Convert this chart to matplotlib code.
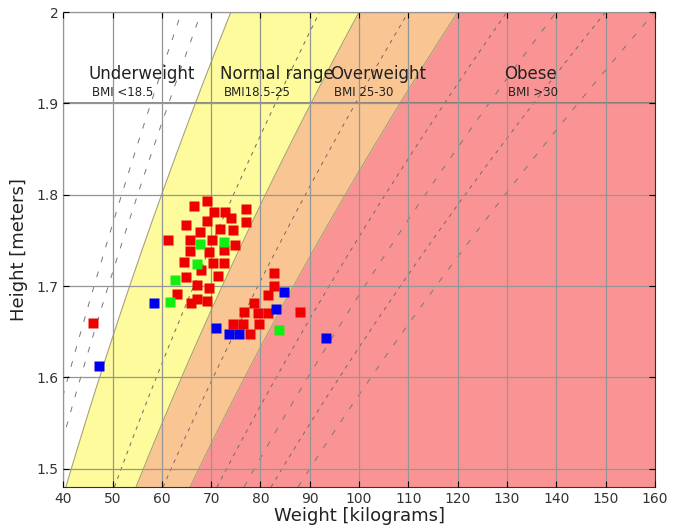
import numpy as np
import matplotlib
matplotlib.use("Agg")
import matplotlib.pyplot as plt

# category boundaries (BMI)
bmi_edges = [18.5, 25, 30]
band_colors = ["white", "#fdfb9c", "#f9c693", "#fa9494"]

# sub-category lines
principal_lines = [16, 17, 35, 40]
asian_lines = [23, 27.5, 32.5, 37.5]

# measured people: weight (kg), height (m)
red_w = [69.1, 66.5, 70.5, 72.9, 74.0, 77.0, 77.0, 64.8, 69.1, 71.8, 74.4, 67.7,
         61.2, 65.8, 70.1, 72.6, 74.8, 65.8, 69.6, 64.5, 70.4, 72.6, 68.0, 71.4,
         64.8, 67.1, 69.6, 63.1, 67.2, 69.1, 66.0, 46.0, 82.8, 82.8, 81.6, 78.6,
         76.7, 79.6, 81.6, 88.1, 74.4, 76.4, 79.7, 77.9]
red_h = [1.793, 1.788, 1.781, 1.781, 1.775, 1.784, 1.770, 1.767, 1.771, 1.762, 1.761, 1.759,
         1.751, 1.751, 1.750, 1.740, 1.745, 1.739, 1.737, 1.726, 1.725, 1.725, 1.718, 1.711,
         1.710, 1.701, 1.698, 1.691, 1.686, 1.684, 1.681, 1.660, 1.714, 1.700, 1.690, 1.682,
         1.672, 1.671, 1.671, 1.672, 1.658, 1.658, 1.659, 1.648]
green_w = [67.7, 72.6, 67.1, 62.6, 61.7, 83.8]
green_h = [1.746, 1.748, 1.724, 1.707, 1.683, 1.652]
blue_w = [58.4, 84.8, 83.2, 71.0, 73.7, 75.7, 93.3, 47.2]
blue_h = [1.682, 1.694, 1.675, 1.654, 1.648, 1.648, 1.643, 1.613]

labels = ["Underweight", "Normal range", "Overweight", "Obese"]
sublabels = ["BMI <18.5", "BMI18.5-25", "BMI 25-30", "BMI >30"]
label_x = [45.1, 71.8, 94.2, 129.4]

xmin, xmax = 40, 160
ymin, ymax = 1.48, 2.0

fig = plt.figure(figsize=(6.73, 5.26), dpi=100)
ax = fig.add_axes([0.094, 0.074, 0.879, 0.903])

h = np.linspace(ymin, ymax, 200)
bounds = [np.full_like(h, xmin)] + [b * h**2 for b in bmi_edges] + [np.full_like(h, xmax)]
for i, c in enumerate(band_colors):
    ax.fill_betweenx(h, bounds[i], bounds[i + 1], color=c, lw=0, zorder=0)
for b in bmi_edges:
    ax.plot(b * h**2, h, color="#a8a070", lw=0.8, zorder=1)

for b in principal_lines:
    ax.plot(b * h**2, h, color="#777777", lw=0.7, ls=(0, (6, 10)), zorder=1)
for b in asian_lines:
    ax.plot(b * h**2, h, color="#7a6666", lw=0.7, ls=(0, (4, 5)), zorder=1)

ax.grid(True, color="#959595", lw=0.9, zorder=1.5)
ax.axhline(1.9, color="#6f6f6f", lw=1.1, zorder=1.6)
ax.set_axisbelow(False)

for x, t, s in zip(label_x, labels, sublabels):
    ax.text(x, 1.932, t, fontsize=12, color="#222222", va="center", ha="left", zorder=3)
    ax.text(x + 0.8, 1.912, s, fontsize=8.5, color="#222222", va="center", ha="left", zorder=3)

ax.plot(red_w, red_h, "s", color="#ee0000", ms=7, mec="none", zorder=4)
ax.plot(green_w, green_h, "s", color="#11ee11", ms=7, mec="none", zorder=4)
ax.plot(blue_w, blue_h, "s", color="#0000ee", ms=7, mec="none", zorder=4)

ax.set_xlim(xmin, xmax)
ax.set_ylim(ymin, ymax)
ax.set_xticks(np.arange(40, 161, 10))
ax.set_yticks([1.5, 1.6, 1.7, 1.8, 1.9, 2.0])
ax.set_yticklabels(["1.5", "1.6", "1.7", "1.8", "1.9", "2"])
ax.tick_params(direction="in", top=True, right=True, labelsize=10, labelcolor="#333333", length=4)
for sp in ax.spines.values():
    sp.set_color("#333333")

ax.set_xlabel("Weight [kilograms]", fontsize=13, color="#222222", labelpad=1)
ax.set_ylabel("Height [meters]", fontsize=13, color="#222222", labelpad=6)

plt.savefig("out.png", dpi=100)
